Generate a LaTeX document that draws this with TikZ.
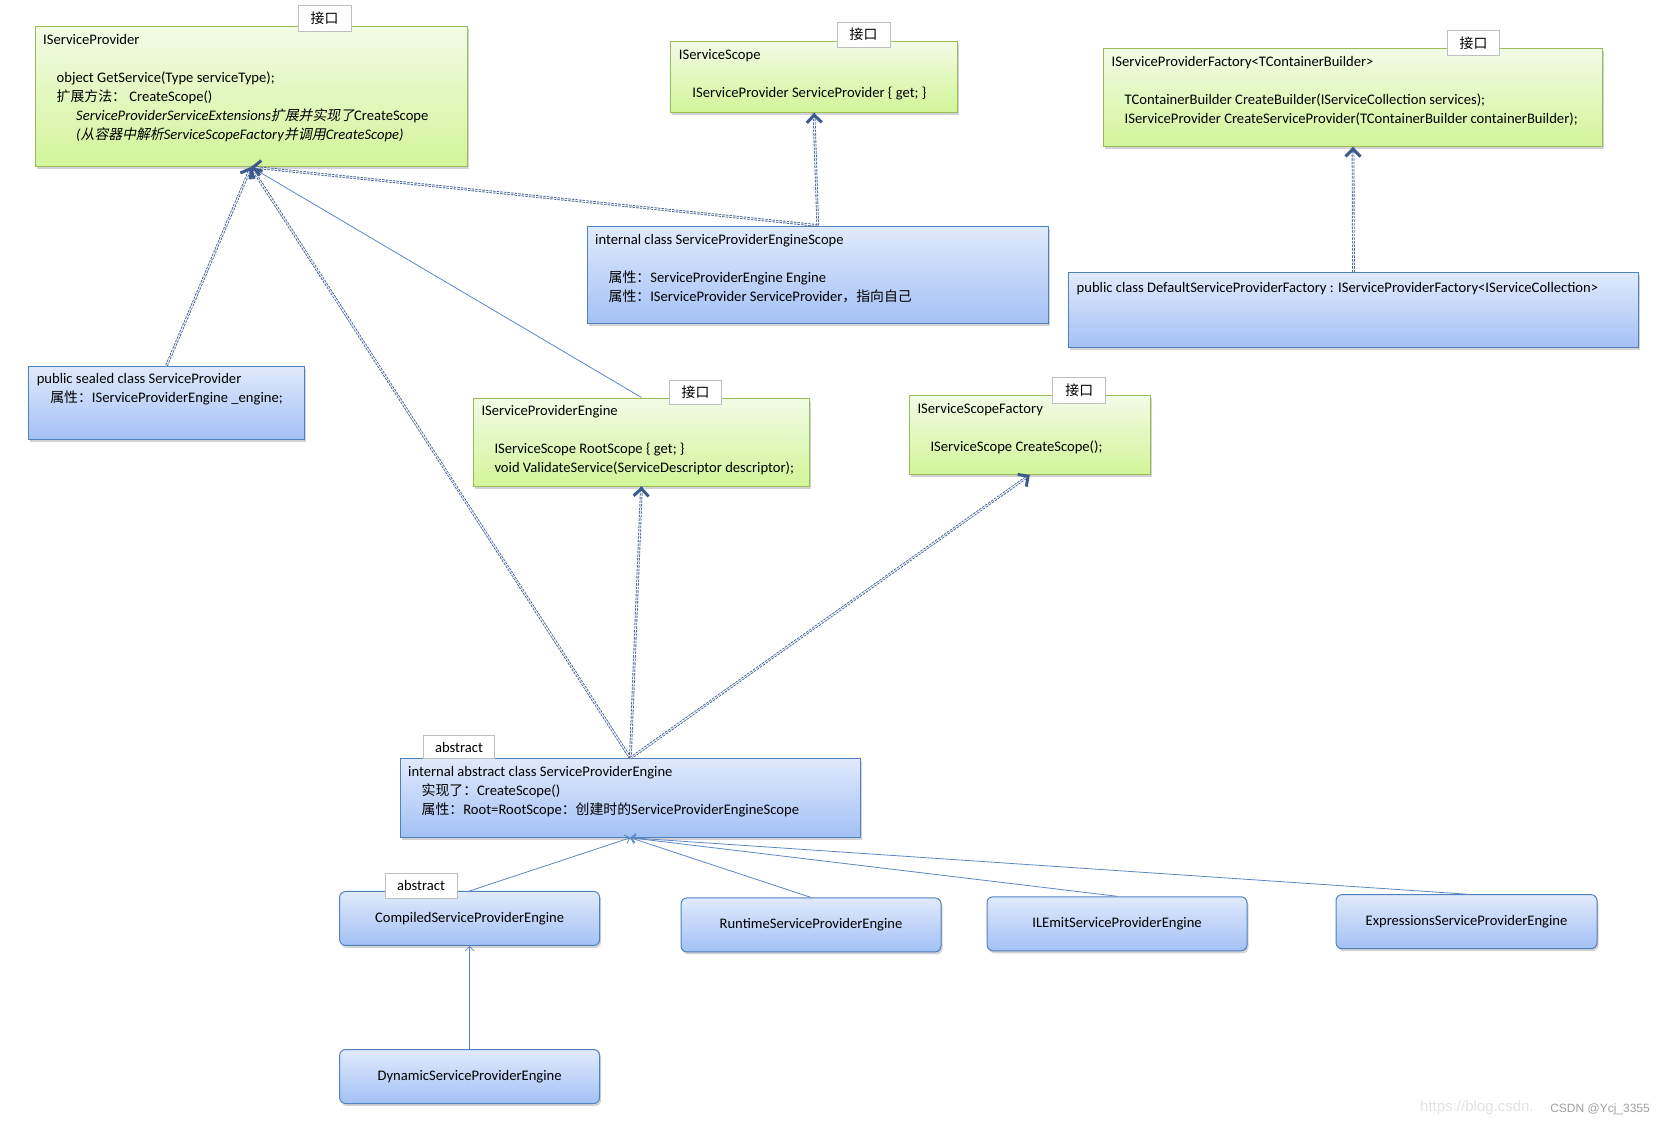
\documentclass[tikz,border=0pt]{standalone}
\usepackage{fontspec}
\setmainfont{Carlito}
\newfontfamily\cjk[Scale=0.95]{Noto Sans CJK SC}
\newfontfamily\cjkit[Scale=0.95,FakeSlant=0.2]{Noto Sans CJK SC}
\newfontfamily\wmfont{Liberation Sans}
\newcommand{\zh}[1]{{\cjk #1}}
\newcommand{\zhit}[1]{{\cjkit #1}}
\usetikzlibrary{arrows.meta,shadows,decorations.markings}

\definecolor{greenline}{HTML}{9BBB59}
\definecolor{greentop}{HTML}{F2FBE6}
\definecolor{greenbot}{HTML}{D2F598}
\definecolor{blueline}{HTML}{4F81BD}
\definecolor{bluetop}{HTML}{E0EAFC}
\definecolor{bluebot}{HTML}{A3C1F5}
\definecolor{dashline}{HTML}{46639A}
\definecolor{headcol}{HTML}{3B5A8A}
\definecolor{solidline}{HTML}{5B87C5}

\begin{document}
\begin{tikzpicture}[x=1pt,y=-1pt]
    % Define the styles for the boxes, tags and connectors
    \tikzstyle{iface}=[rectangle, inner sep=0pt, draw=greenline, line width=1pt, top color=greentop, bottom color=greenbot, drop shadow={shadow xshift=1.5pt, shadow yshift=-2.5pt, opacity=0.35, fill=gray}]
    \tikzstyle{klass}=[rectangle, inner sep=0pt, draw=blueline, line width=1pt, top color=bluetop, bottom color=bluebot, drop shadow={shadow xshift=1.5pt, shadow yshift=-2.5pt, opacity=0.35, fill=gray}]
    \tikzstyle{engine}=[klass, rounded corners=6pt, minimum width=260pt, minimum height=54pt, font=\fontsize{14.6}{19}\selectfont]
    \tikzstyle{boxtext}=[anchor=north west, inner sep=0pt, align=left, font=\fontsize{14.6}{19}\selectfont]
    \tikzstyle{tag}=[rectangle, inner sep=0pt, draw=gray!50, line width=0.8pt, fill=white, font=\fontsize{14.6}{19}\selectfont]
    \tikzstyle{realize}=[draw=dashline, line width=0.9pt, double=white, double distance=0.9pt, dash pattern=on 2.4pt off 1.2pt,
        postaction={decorate, decoration={markings, mark=at position 1 with {\arrow[headcol]{Straight Barb[length=7.5pt,width=15pt,line width=3pt]}}}}]
    \tikzstyle{inherit}=[draw=solidline, line width=0.8pt, -{Straight Barb[length=4.5pt,width=9pt]}]

    \useasboundingbox (0,0) rectangle (1664,1124);

    % Draw the interfaces
    \node[iface, minimum width=432pt, minimum height=140pt] (isp) at (251,96.5) {};
    \node[boxtext] (isptxt) at ([shift={(8.5,5)}]isp.north west) {\strut IServiceProvider\\[19pt]
        \hspace*{13.5pt}object GetService(Type serviceType);\\
        \hspace*{13.5pt}\zh{扩展方法：} CreateScope()\\
        \hspace*{33pt}\textit{ServiceProviderServiceExtensions}\zhit{扩展并实现了}CreateScope\\
        \hspace*{33pt}\textit{(}\zhit{从容器中解析}\textit{ServiceScopeFactory}\zhit{并调用}\textit{CreateScope)}};
    \node[iface, minimum width=286.5pt, minimum height=71pt] (iscope) at (814,77) {};
    \node[boxtext] (iscopetxt) at ([shift={(8.5,5)}]iscope.north west) {\strut IServiceScope\\[19pt]
        \hspace*{13.5pt}IServiceProvider ServiceProvider \{ get; \}};
    \node[iface, minimum width=499pt, minimum height=97.6pt] (ispf) at (1353,97.6) {};
    \node[boxtext] (ispftxt) at ([shift={(8.5,5)}]ispf.north west) {\strut IServiceProviderFactory<TContainerBuilder>\\[19pt]
        \hspace*{13pt}TContainerBuilder CreateBuilder(IServiceCollection services);\\
        \hspace*{13pt}IServiceProvider CreateServiceProvider(TContainerBuilder containerBuilder);};
    \node[iface, minimum width=336.4pt, minimum height=88pt] (ispe) at (641.5,442) {};
    \node[boxtext] (ispetxt) at ([shift={(8.5,4.5)}]ispe.north west) {\strut IServiceProviderEngine\\[19pt]
        \hspace*{13pt}IServiceScope RootScope \{ get; \}\\
        \hspace*{13pt}void ValidateService(ServiceDescriptor descriptor);};
    \node[iface, minimum width=241pt, minimum height=78.6pt] (iscfac) at (1029.85,435.1) {};
    \node[boxtext] (iscfactxt) at ([shift={(8.5,4.5)}]iscfac.north west) {\strut IServiceScopeFactory\\[19pt]
        \hspace*{13pt}IServiceScope CreateScope();};

    % Draw the classes
    \node[klass, minimum width=461.5pt, minimum height=97.7pt] (spescope) at (817.75,274.85) {};
    \node[boxtext] (spescopetxt) at ([shift={(8.5,5)}]spescope.north west) {\strut internal class ServiceProviderEngineScope\\[19pt]
        \hspace*{13.5pt}\zh{属性：}ServiceProviderEngine Engine\\
        \hspace*{13.5pt}\zh{属性：}IServiceProvider ServiceProvider\zh{，指向自己}};
    \node[klass, minimum width=570pt, minimum height=74.3pt] (dspf) at (1353.5,309.85) {};
    \node[boxtext] (dspftxt) at ([shift={(8.5,7)}]dspf.north west) {\strut public class DefaultServiceProviderFactory : IServiceProviderFactory<IServiceCollection>};
    \node[klass, minimum width=276pt, minimum height=73pt] (sp) at (166.6,402.5) {};
    \node[boxtext] (sptxt) at ([shift={(8.5,4.5)}]sp.north west) {\strut public sealed class ServiceProvider\\
        \hspace*{13.5pt}\zh{属性：}IServiceProviderEngine \_engine;};
    \node[klass, minimum width=460.6pt, minimum height=78.5pt] (spe) at (630.3,798) {};
    \node[boxtext] (spetxt) at ([shift={(8.5,4.5)}]spe.north west) {\strut internal abstract class ServiceProviderEngine\\
        \hspace*{13.5pt}\zh{实现了：}CreateScope()\\
        \hspace*{13.5pt}\zh{属性：}Root=RootScope\zh{：创建时的}ServiceProviderEngineScope};

    % Draw the engines
    \node[engine] (compiled) at (469.6,918.45) {CompiledServiceProviderEngine};
    \node[engine] (runtime) at (811,924.9) {RuntimeServiceProviderEngine};
    \node[engine] (ilemit) at (1117,923.75) {ILEmitServiceProviderEngine};
    \node[engine, minimum width=261pt] (expr) at (1466.5,921.65) {ExpressionsServiceProviderEngine};
    \node[engine] (dynamic) at (469.6,1076.5) {DynamicServiceProviderEngine};

    % Draw the tags
    \node[tag, minimum width=53pt, minimum height=26.5pt] (isptag) at (324.5,18.5) {\zh{接口}};
    \node[tag, minimum width=53pt, minimum height=25pt] (iscopetag) at (863.5,34.5) {\zh{接口}};
    \node[tag, minimum width=52pt, minimum height=24.4pt] (ispftag) at (1473.5,43) {\zh{接口}};
    \node[tag, minimum width=52pt, minimum height=24pt] (ispetag) at (695.6,392) {\zh{接口}};
    \node[tag, minimum width=53pt, minimum height=25.2pt] (iscfactag) at (1079.25,390.4) {\zh{接口}};
    \node[tag, minimum width=71pt, minimum height=23.4pt] (spetag) at (459,747.1) {abstract};
    \node[tag, minimum width=72pt, minimum height=25pt] (compiledtag) at (421,885.5) {abstract};

    % Draw the connectors
    \draw[inherit] (ispe.north) -- (isp.south);
    \draw[realize] (sp.north) -- (isp.south);
    \draw[realize] (spescope.north) -- (isp.south);
    \draw[realize] (spescope.north) -- (iscope.south);
    \draw[realize] (spe.north) -- (isp.south);
    \draw[realize] (spe.north) -- (ispe.south);
    \draw[realize] (spe.north) -- (iscfac.south);
    \draw[realize] (dspf.north) -- (ispf.south);
    \foreach \e in {compiled,runtime,ilemit,expr}
        \draw[inherit] (\e.north) -- (spe.south);
    \draw[inherit] (dynamic.north) -- (compiled.south);

    % Watermark
    \node[anchor=base west, inner sep=0pt, font=\wmfont\fontsize{15}{15}\selectfont, text=gray!22] (wmurl) at (1420,1111.5) {https://blog.csdn.};
    \node[anchor=base east, inner sep=0pt, font=\wmfont\fontsize{12}{12}\selectfont, text=gray!75] (wmname) at (1650,1112) {CSDN @Ycj\_3355};
\end{tikzpicture}
\end{document}
